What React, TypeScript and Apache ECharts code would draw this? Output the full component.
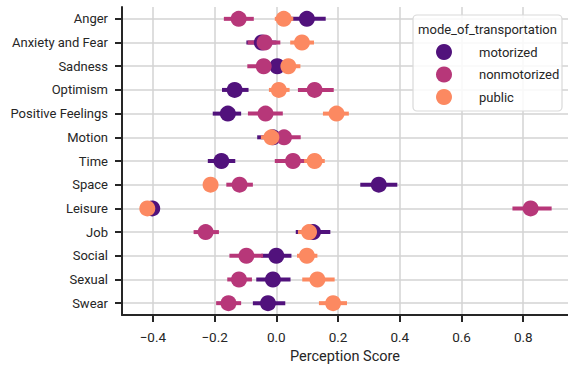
import React, { useEffect, useRef } from "react";
import * as echarts from "echarts";

const categories = [
  "Anger", "Anxiety and Fear", "Sadness", "Optimism", "Positive Feelings", "Motion",
  "Time", "Space", "Leisure", "Job", "Social", "Sexual", "Swear",
];

const seriesNames = ["motorized", "nonmotorized", "public"];
const seriesColors = ["#51127c", "#b73779", "#fc8961"];

const motorizedMean = [0.099, -0.047, 0.003, -0.135, -0.157, -0.011, -0.178, 0.332, -0.402, 0.119, 0.0, -0.011, -0.027];
const motorizedLow = [0.043, -0.097, -0.030, -0.176, -0.206, -0.062, -0.222, 0.272, -0.410, 0.063, -0.049, -0.065, -0.076];
const motorizedHigh = [0.160, 0.0, 0.035, -0.090, -0.114, 0.040, -0.133, 0.392, -0.395, 0.175, 0.049, 0.046, 0.029];

const nonmotorizedMean = [-0.122, -0.038, -0.041, 0.124, -0.035, 0.025, 0.054, -0.119, 0.824, -0.229, -0.097, -0.121, -0.155];
const nonmotorizedLow = [-0.170, -0.093, -0.094, 0.070, -0.092, -0.025, -0.005, -0.162, 0.765, -0.268, -0.152, -0.159, -0.195];
const nonmotorizedHigh = [-0.073, 0.013, 0.010, 0.186, 0.021, 0.079, 0.110, -0.076, 0.892, -0.186, -0.043, -0.079, -0.114];

const publicMean = [0.024, 0.083, 0.039, 0.008, 0.195, -0.016, 0.124, -0.213, -0.418, 0.106, 0.099, 0.133, 0.184];
const publicLow = [-0.005, 0.045, 0.0, -0.024, 0.151, -0.050, 0.090, -0.220, -0.425, 0.070, 0.067, 0.084, 0.138];
const publicHigh = [0.055, 0.122, 0.078, 0.043, 0.235, 0.020, 0.157, -0.206, -0.411, 0.140, 0.133, 0.189, 0.229];

const xTicks = [-0.4, -0.2, 0.0, 0.2, 0.4, 0.6, 0.8];
const xMin = -0.5;
const xMax = 0.945;
const xName = "Perception Score";
const legendTitle = "mode_of_transportation";

const FONT = "Roboto";
const INK = "#262626";
const GRID = "#d3d3d3";

export default function App() {
  const ref = useRef<HTMLDivElement>(null);

  useEffect(() => {
    if (!ref.current) return;
    const chart = echarts.init(ref.current, undefined, { renderer: "svg" });

    const groups = [
      { mean: motorizedMean, low: motorizedLow, high: motorizedHigh },
      { mean: nonmotorizedMean, low: nonmotorizedLow, high: nonmotorizedHigh },
      { mean: publicMean, low: publicLow, high: publicHigh },
    ];

    const series: any[] = [
      {
        name: "gridlines",
        type: "line",
        data: [],
        z: 0,
        silent: true,
        markLine: {
          z: 0,
          silent: true,
          symbol: ["none", "none"],
          label: { show: false },
          lineStyle: { color: GRID, width: 1.5, type: "solid" },
          emphasis: { disabled: true },
          data: [
            ...xTicks.map((v) => ({ xAxis: v })),
            ...categories.map((c) => ({ yAxis: c })),
          ],
        },
      },
    ];

    groups.forEach((g, si) => {
      const color = seriesColors[si];
      series.push({
        name: seriesNames[si] + " CI",
        type: "custom",
        z: 2,
        silent: true,
        encode: { x: [0, 1], y: 2 },
        data: g.mean.map((_, i) => [g.low[i], g.high[i], i]),
        renderItem: (params: any, api: any) => {
          const a = api.coord([api.value(0), api.value(2)]);
          const b = api.coord([api.value(1), api.value(2)]);
          return {
            type: "rect",
            shape: { x: a[0], y: a[1] - 2, width: Math.max(b[0] - a[0], 0.5), height: 4 },
            style: { fill: color, stroke: "none" },
          };
        },
      });
      series.push({
        name: seriesNames[si],
        type: "scatter",
        z: 2,
        symbol: "circle",
        symbolSize: 16,
        itemStyle: { color, opacity: 1 },
        data: g.mean.map((m, i) => [m, i]),
      });
    });

    chart.setOption({
      animation: false,
      textStyle: { fontFamily: FONT },
      grid: { left: 122, right: 0, top: 7, bottom: 52, containLabel: false, outerBoundsMode: "none" },
      xAxis: {
        type: "value",
        min: xMin,
        max: xMax,
        interval: 0.1,
        name: xName,
        nameLocation: "middle",
        nameGap: 34,
        nameTextStyle: { fontFamily: FONT, fontSize: 14.5, color: INK },
        axisLine: { show: true, onZero: false, lineStyle: { color: INK, width: 2 } },
        axisTick: {
          show: true,
          length: 7,
          customValues: xTicks,
          lineStyle: { color: INK, width: 2 },
        },
        splitLine: { show: false },
        axisLabel: {
          fontFamily: FONT,
          fontSize: 13.5,
          color: INK,
          margin: 15,
          customValues: xTicks,
          formatter: (v: number) => {
            const hit = xTicks.find((t) => Math.abs(t - v) < 1e-6);
            if (hit === undefined) return "";
            const s = Math.abs(hit).toFixed(1);
            return hit < -1e-9 ? "\u2212" + s : s;
          },
        },
      },
      yAxis: {
        type: "category",
        data: categories,
        inverse: true,
        axisLine: { show: true, onZero: false, lineStyle: { color: INK, width: 2 } },
        axisTick: { show: true, alignWithLabel: true, length: 7, lineStyle: { color: INK, width: 2 } },
        splitLine: { show: false },
        axisLabel: { fontFamily: FONT, fontSize: 13, color: INK, margin: 14, interval: 0 },
      },
      legend: {
        data: seriesNames,
        orient: "vertical",
        left: 431,
        top: 39,
        itemWidth: 16,
        itemHeight: 16,
        itemGap: 6.5,
        icon: "circle",
        z: 6,
        selectedMode: false,
        textStyle: { fontFamily: FONT, fontSize: 13, color: INK, padding: [0, 0, 0, 22], lineHeight: 16 },
      },
      graphic: {
        elements: [
          {
            type: "rect",
            z: 5,
            shape: { x: 413, y: 15, width: 149, height: 96, r: 4 },
            style: { fill: "rgba(255,255,255,0.85)", stroke: "#d9d9d9", lineWidth: 1.2 },
          },
          {
            type: "text",
            z: 6,
            x: 487.5,
            y: 29,
            style: {
              text: legendTitle,
              fontFamily: FONT,
              fontSize: 13,
              fill: INK,
              align: "center",
              verticalAlign: "middle",
            },
          },
        ],
      },
      series,
    });

    return () => chart.dispose();
  }, []);

  return (
    <div
      ref={ref}
      style={{ position: "fixed", left: 0, top: 0, width: 568, height: 367, background: "#fff" }}
    />
  );
}
